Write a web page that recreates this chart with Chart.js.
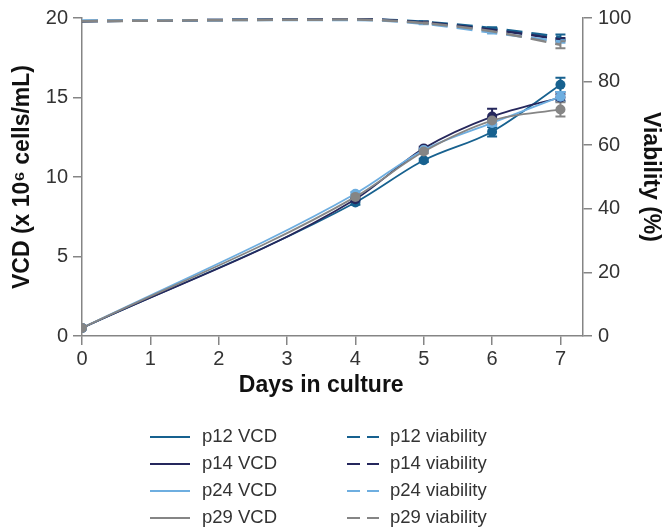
<!DOCTYPE html>
<html>
<head>
<meta charset="utf-8">
<script src="https://cdn.jsdelivr.net/npm/chart.js@4.4.0/dist/chart.umd.min.js"></script>
<style>
  html,body{margin:0;padding:0;background:#fff;}
  #wrap{width:662px;height:531px;}
</style>
</head>
<body>
<div id="wrap"><canvas id="chart" width="662" height="531"></canvas></div>
<script>
const days = [0, 4, 5, 6, 7];
const xTicks = [0, 1, 2, 3, 4, 5, 6, 7];
const vcdTicks = [0, 5, 10, 15, 20];
const viaTicks = [0, 20, 40, 60, 80, 100];

const p12Vcd = [0.5, 8.4, 11.05, 12.85, 15.8];
const p14Vcd = [0.5, 8.6, 11.8, 13.8, 15.0];
const p24Vcd = [0.5, 8.95, 11.7, 13.4, 15.05];
const p29Vcd = [0.5, 8.75, 11.6, 13.55, 14.25];

const p12VcdErr = [0, 0.15, 0.1, 0.3, 0.45];
const p14VcdErr = [0, 0.1, 0.1, 0.5, 0.2];
const p24VcdErr = [0, 0.1, 0.1, 0.2, 0.3];
const p29VcdErr = [0, 0.1, 0.1, 0.2, 0.45];

const p12Via = [99.0, 99.6, 98.8, 96.8, 94.0];
const p14Via = [99.0, 99.6, 98.6, 96.3, 93.3];
const p24Via = [99.2, 99.4, 98.2, 95.4, 92.6];
const p29Via = [99.0, 99.5, 98.4, 95.8, 91.6];

const p12ViaErr = [0, 0, 0.2, 0.3, 0.8];
const p14ViaErr = [0, 0, 0.2, 0.3, 0.4];
const p24ViaErr = [0, 0, 0.2, 0.3, 0.4];
const p29ViaErr = [0, 0, 0.2, 0.3, 1.1];

const names = ['p12', 'p14', 'p24', 'p29'];
const colors = ['#17618f', '#25275c', '#6eaee0', '#858585'];
const vcdSets = [p12Vcd, p14Vcd, p24Vcd, p29Vcd];
const vcdErrs = [p12VcdErr, p14VcdErr, p24VcdErr, p29VcdErr];
const viaSets = [p12Via, p14Via, p24Via, p29Via];
const viaErrs = [p12ViaErr, p14ViaErr, p24ViaErr, p29ViaErr];

const FONT = "'Liberation Sans', Arial, Helvetica, sans-serif";
const AXIS = '#858585';
const VIA_DASH = [16, 9];

Chart.defaults.font.family = FONT;
Chart.defaults.color = '#333';

const datasets = [];
names.forEach((n, i) => {
  datasets.push({
    label: n + ' VCD',
    data: days.map((d, j) => ({x: d, y: vcdSets[i][j]})),
    errs: vcdErrs[i],
    yAxisID: 'y',
    borderColor: colors[i],
    backgroundColor: colors[i],
    borderWidth: 1.8,
    pointRadius: 5,
    pointHoverRadius: 5,
    pointBorderWidth: 0,
    cubicInterpolationMode: 'monotone',
    order: 3 - i,
  });
  datasets.push({
    label: n + ' viability',
    data: days.map((d, j) => ({x: d, y: viaSets[i][j]})),
    errs: viaErrs[i],
    yAxisID: 'y2',
    borderColor: colors[i],
    backgroundColor: colors[i],
    borderWidth: 2.5,
    borderDash: VIA_DASH,
    pointRadius: 0,
    cubicInterpolationMode: 'monotone',
    order: 7 - i,
  });
});

// error bars, drawn under the markers
const errorBars = {
  id: 'errorBars',
  beforeDatasetsDraw(chart){
    const ctx = chart.ctx;
    const xs = chart.scales.x;
    chart.data.datasets.forEach((ds) => {
      if(!ds.errs) return;
      const ys = chart.scales[ds.yAxisID];
      ctx.save();
      ctx.strokeStyle = ds.borderColor;
      ctx.lineWidth = 2;
      ctx.setLineDash([]);
      ds.data.forEach((p, j) => {
        const e = ds.errs[j];
        if(!e) return;
        const x = xs.getPixelForValue(p.x);
        const t = ys.getPixelForValue(p.y + e);
        const b = ys.getPixelForValue(p.y - e);
        ctx.beginPath();
        ctx.moveTo(x, t); ctx.lineTo(x, b);
        ctx.moveTo(x - 5, t); ctx.lineTo(x + 5, t);
        ctx.moveTo(x - 5, b); ctx.lineTo(x + 5, b);
        ctx.stroke();
      });
      ctx.restore();
    });
  }
};

// x title centred on the 0-7 range, plus the two-column legend below
const extras = {
  id: 'extras',
  afterDraw(chart){
    const ctx = chart.ctx;
    const xs = chart.scales.x;
    ctx.save();
    ctx.fillStyle = '#111';
    ctx.font = `bold 23px ${FONT}`;
    ctx.textAlign = 'center';
    ctx.textBaseline = 'middle';
    ctx.fillText('Days in culture', xs.getPixelForValue(3.5), 386);

    ctx.font = `18.5px ${FONT}`;
    ctx.textAlign = 'left';
    ctx.fillStyle = '#333';
    names.forEach((n, i) => {
      const y = 437 + i * 27;
      ctx.strokeStyle = colors[i];
      ctx.lineWidth = 2;
      ctx.setLineDash([]);
      ctx.beginPath(); ctx.moveTo(150, y); ctx.lineTo(190, y); ctx.stroke();
      ctx.fillText(n + ' VCD', 202, y);

      ctx.setLineDash([13, 7]);
      ctx.beginPath(); ctx.moveTo(347, y); ctx.lineTo(379, y); ctx.stroke();
      ctx.setLineDash([]);
      ctx.fillText(n + ' viability', 390, y);
    });
    ctx.restore();
  }
};

const tickFont = {size: 20};
const gridOpts = {drawOnChartArea: false, drawTicks: true, tickLength: 9, tickColor: AXIS, lineWidth: 1.5};
const borderOpts = {color: AXIS, width: 1.5};

new Chart(document.getElementById('chart'), {
  type: 'line',
  data: {datasets},
  options: {
    responsive: false,
    animation: false,
    layout: {padding: {top: 18, bottom: 135, left: 0, right: 0}},
    plugins: {legend: {display: false}, tooltip: {enabled: false}},
    scales: {
      x: {
        type: 'linear', min: 0, max: 7.33,
        afterBuildTicks: s => { s.ticks = xTicks.map(v => ({value: v})); },
        ticks: {font: tickFont, color: '#333', padding: 2, autoSkip: false, maxRotation: 0},
        grid: gridOpts, border: borderOpts,
        afterFit: s => { s.height = 60; }
      },
      y: {
        type: 'linear', position: 'left', min: 0, max: 20,
        afterBuildTicks: s => { s.ticks = vcdTicks.map(v => ({value: v})); },
        ticks: {font: tickFont, color: '#333', padding: 5},
        grid: gridOpts, border: borderOpts,
        title: {display: true, text: 'VCD (x 10\u2076 cells/mL)', color: '#111',
          font: {size: 23, weight: 'bold', lineHeight: 1}, padding: {top: 11, bottom: 0}},
        afterFit: s => { s.width = 82; }
      },
      y2: {
        type: 'linear', position: 'right', min: 0, max: 100,
        afterBuildTicks: s => { s.ticks = viaTicks.map(v => ({value: v})); },
        ticks: {font: tickFont, color: '#333', padding: 6},
        grid: gridOpts, border: borderOpts,
        title: {display: true, text: 'Viability (%)', color: '#111',
          font: {size: 23, weight: 'bold', lineHeight: 1}, padding: {top: 0, bottom: 0}},
        afterFit: s => { s.width = 79; }
      }
    }
  },
  plugins: [errorBars, extras]
});
</script>
</body>
</html>
